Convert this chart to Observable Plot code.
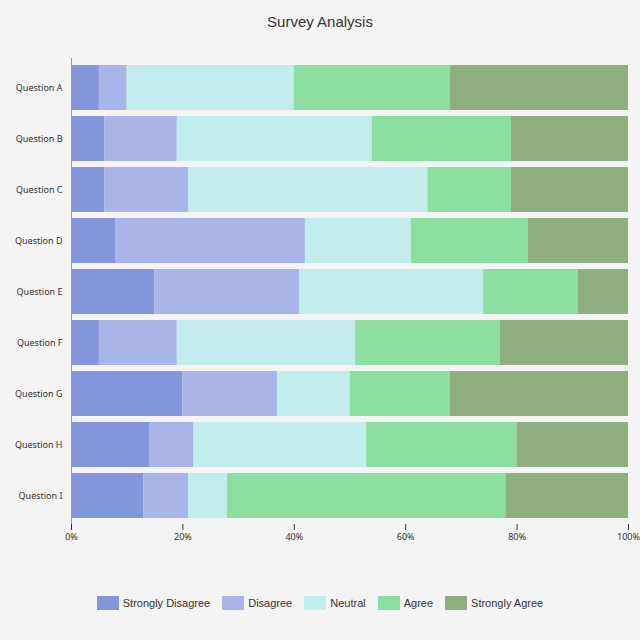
<!DOCTYPE html>
<html><head><meta charset="utf-8">
<script src="https://cdn.jsdelivr.net/npm/d3@7"></script>
<script src="https://cdn.jsdelivr.net/npm/@observablehq/plot@0.6"></script>
<style>
body{margin:0;background:#f4f4f4;font-family:"Liberation Sans",Arial,sans-serif;}
#t{height:44px;line-height:44px;text-align:center;font-size:15px;color:#333;}
#lg{display:flex;justify-content:center;gap:12px;font-size:11px;color:#333;margin-top:42px;}
#lg span{display:flex;align-items:center;gap:4px;}
#lg i{display:inline-block;width:22px;height:14px;}
</style></head><body>
<div id="t">Survey Analysis</div>
<div id="c"></div>
<div id="lg"></div>
<script>
const questions=["Question A","Question B","Question C","Question D","Question E","Question F","Question G","Question H","Question I"];
const responses=["Strongly Disagree","Disagree","Neutral","Agree","Strongly Agree"];
const colors=["#8396dc","#a9b5e9","#c3eded","#8ddea1","#8fae7e"];
const stronglyDisagree=[5,6,6,8,15,5,20,14,13];
const disagree=[5,13,15,34,26,14,17,8,8];
const neutral=[30,35,43,19,33,32,13,31,7];
const agree=[28,25,15,21,17,26,18,27,50];
const stronglyAgree=[32,21,21,18,9,23,32,20,22];
const series=[stronglyDisagree,disagree,neutral,agree,stronglyAgree];
const data=[];
questions.forEach((q,i)=>responses.forEach((r,j)=>data.push({q,r,v:series[j][i]})));
const chart=Plot.plot({
  width:640,height:510,marginLeft:71,marginRight:12,marginTop:14,marginBottom:30,
  style:{background:"transparent",fontSize:"9px",color:"#333"},
  x:{domain:[0,100],ticks:[0,20,40,60,80,100],tickFormat:d=>d+"%",label:null},
  y:{domain:questions,label:null,padding:0.12,tickSize:0},
  color:{domain:responses,range:colors},
  marks:[
    Plot.barX(data,Plot.stackX({x:"v",y:"q",fill:"r",order:responses})),
    Plot.ruleX([0],{stroke:"#999"})
  ]
});
document.getElementById("c").appendChild(chart);
const lg=document.getElementById("lg");
responses.forEach((r,j)=>{const s=document.createElement("span");s.innerHTML=`<i style="background:${colors[j]}"></i>${r}`;lg.appendChild(s);});
</script></body></html>
